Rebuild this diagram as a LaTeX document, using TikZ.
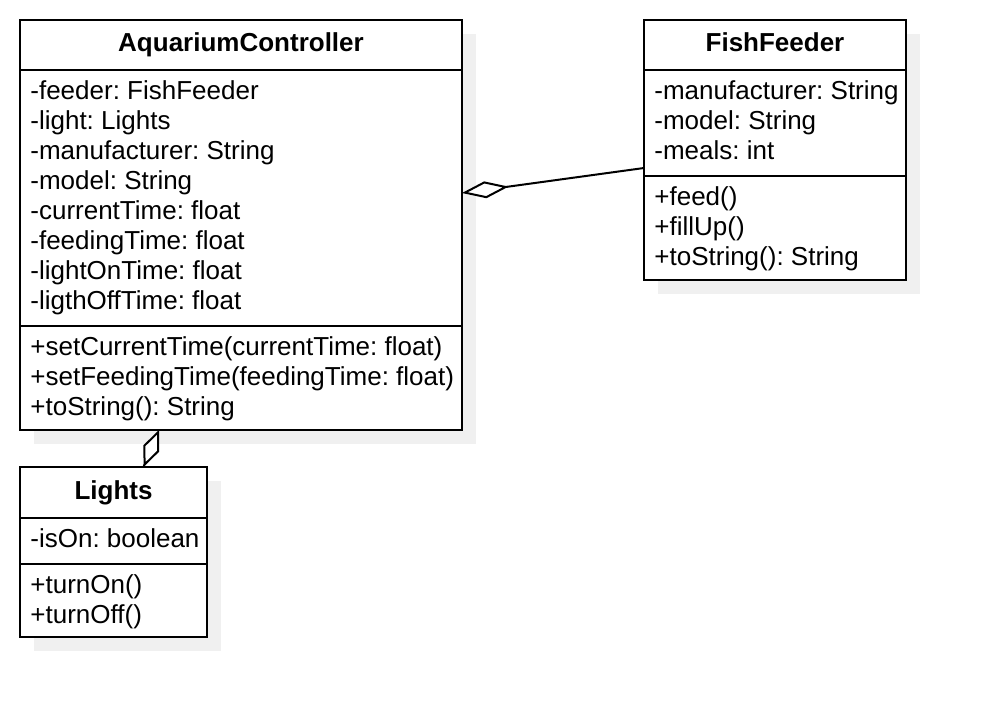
\documentclass[tikz,border=0pt]{standalone}
\usepackage{fontspec}
\setmainfont{Liberation Sans}
\usetikzlibrary{arrows.meta,backgrounds}
\frenchspacing

\tikzset{
    classhead/.style={draw, line width=1pt, fill=white, anchor=north west, outer sep=0pt, inner sep=0pt, minimum height=25pt, text height=9.5pt, text depth=2.7pt, font=\fontsize{13}{15}\selectfont\bfseries},
    classbox/.style={draw, line width=1pt, fill=white, anchor=north west, outer sep=0pt, inner sep=0pt},
    members/.style={anchor=north west, align=left, inner sep=0pt, font=\fontsize{13}{15}\selectfont},
    classshadow/.style={fill=black!6},
    aggregation/.style={line width=1pt, -{Diamond[fill=white, length=#1, width=8.5pt]}},
    aggregation/.default=23.5pt
}

\begin{document}
\begin{tikzpicture}[x=0.5pt, y=-0.5pt]
    \begin{scope}[on background layer]
        \fill[white] (0,0) rectangle (986,718);
    \end{scope}
    \useasboundingbox (0,0) rectangle (986,718);

    % AquariumController
    \node[classhead, minimum width=221pt] (achead) at (20,20) {AquariumController};
    \node[classbox, minimum width=221pt, minimum height=128pt] (acattr) at (achead.south west) {};
    \node[classbox, minimum width=221pt, minimum height=52pt] (acmeth) at (acattr.south west) {};
    \node[members] (acattrtext) at ([shift={(5pt,-5.25pt)}]acattr.north west) {-feeder: FishFeeder\\-light: Lights\\-manufacturer: String\\-model: String\\-currentTime: float\\-feedingTime: float\\-lightOnTime: float\\-ligthOffTime: float};
    \node[members] (acmethtext) at ([shift={(5pt,-5.25pt)}]acmeth.north west) {+setCurrentTime(currentTime: float)\\+setFeedingTime(feedingTime: float)\\+toString(): String};

    % FishFeeder
    \node[classhead, minimum width=131pt] (ffhead) at (644,20) {FishFeeder};
    \node[classbox, minimum width=131pt, minimum height=53pt] (ffattr) at (ffhead.south west) {};
    \node[classbox, minimum width=131pt, minimum height=52pt] (ffmeth) at (ffattr.south west) {};
    \node[members] (ffattrtext) at ([shift={(5pt,-5.25pt)}]ffattr.north west) {-manufacturer: String\\-model: String\\-meals: int};
    \node[members] (ffmethtext) at ([shift={(5pt,-5.25pt)}]ffmeth.north west) {+feed()\\+fillUp()\\+toString(): String};

    % Lights
    \node[classhead, minimum width=93.5pt, minimum height=25.5pt] (lhead) at (20,467) {Lights};
    \node[classbox, minimum width=93.5pt, minimum height=23pt] (lattr) at (lhead.south west) {};
    \node[classbox, minimum width=93.5pt, minimum height=36.5pt] (lmeth) at (lattr.south west) {};
    \node[members] (lattrtext) at ([shift={(5pt,-5.25pt)}]lattr.north west) {-isOn: boolean};
    \node[members] (lmethtext) at ([shift={(5pt,-5.25pt)}]lmeth.north west) {+turnOn()\\+turnOff()};

    % shadows
    \begin{scope}[on background layer]
        \foreach \hd/\ft in {achead/acmeth, ffhead/ffmeth, lhead/lmeth}
            \fill[classshadow] ([shift={(7pt,-7pt)}]\hd.north west) rectangle ([shift={(7pt,-7pt)}]\ft.south east);
    \end{scope}

    \draw[aggregation] ([yshift=4pt]ffattr.south west) -- ([yshift=2.5pt]acattr.east);
    \draw[aggregation=20pt] ([xshift=15pt]lhead.north) -- ([xshift=-41pt]acmeth.south);
\end{tikzpicture}
\end{document}
